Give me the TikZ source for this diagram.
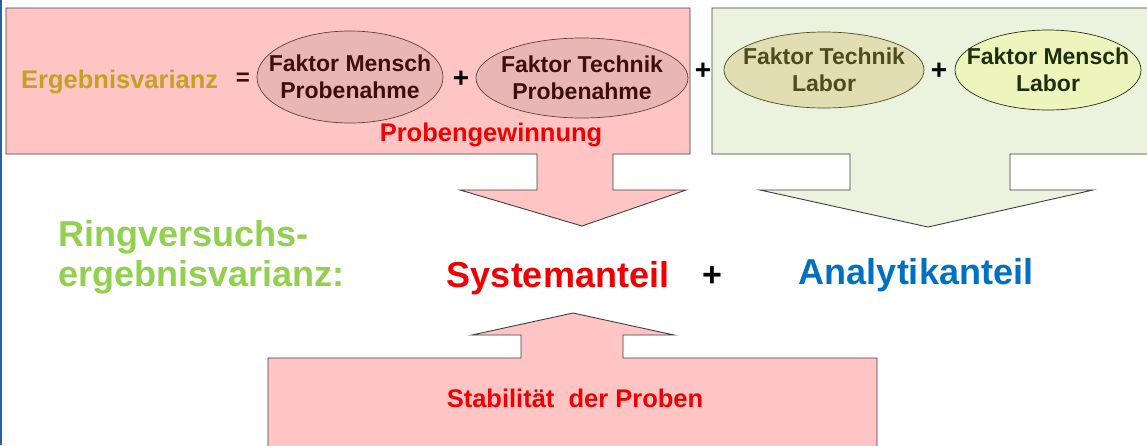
\documentclass[tikz,border=0pt]{standalone}
\usepackage{fontspec}
\setmainfont{Liberation Sans}
\usetikzlibrary{shapes.geometric}
\definecolor{pinkfill}{HTML}{FFC4C4}
\definecolor{pinkell}{HTML}{E9B5B5}
\definecolor{greenfill}{HTML}{EBF2DE}
\definecolor{greenellA}{HTML}{E2DEB4}
\definecolor{greenellB}{HTML}{EEF5BC}
\definecolor{boxline}{HTML}{404040}
\definecolor{gold}{HTML}{C4A024}
\definecolor{mybrown}{HTML}{3C0E0E}
\definecolor{olivetext}{HTML}{4C4C1E}
\definecolor{darkgreentext}{HTML}{1E2E10}
\definecolor{lightgreen}{HTML}{92D050}
\definecolor{myred}{HTML}{F00000}
\definecolor{myblue}{HTML}{0070C0}
\definecolor{edgeblue}{HTML}{2F5F9A}
\tikzset{
  callout/.style={draw=boxline, line width=0.9pt, line join=miter},
  ell/.style={ellipse, draw=#1, line width=0.7pt, inner xsep=-40pt, inner ysep=-10pt, align=center,
    font=\fontsize{23}{27}\selectfont\bfseries},
  plus/.style={font=\fontsize{28}{28}\selectfont\bfseries, text=black, inner sep=0pt},
  big/.style={font=\fontsize{36}{40}\selectfont\bfseries, inner sep=0pt},
  mid/.style={font=\fontsize{25.5}{28}\selectfont\bfseries, inner sep=0pt}
}
\begin{document}
\begin{tikzpicture}[x=1pt, y=-1pt]
\useasboundingbox (0,0) rectangle (1147,445);
\fill[white] (0,0) rectangle (1147,445);
% left edge
\draw[edgeblue, line width=2pt] (1,0) -- (1,445);
% pink callout (top)
\draw[callout, fill=pinkfill] (6,8) -- (690,8) -- (690,154) -- (613,154) -- (613,190)
  -- (686,190) -- (582,226) -- (460,190) -- (537,190) -- (537,154) -- (6,154) -- cycle;
% green callout
\draw[callout, fill=greenfill] (712,8) -- (1152,8) -- (1152,154) -- (1010,154) -- (1010,190)
  -- (1093,190) -- (928,227) -- (760,190) -- (850,190) -- (850,154) -- (712,154) -- cycle;
% bottom pink callout (up)
\draw[callout, fill=pinkfill] (268,450) -- (268,358) -- (521,358) -- (521,335) -- (472,335)
  -- (573,313) -- (674,335) -- (623,335) -- (623,358) -- (877,358) -- (877,450);

% top formula
\node[ell=mybrown!80, fill=pinkell, text=mybrown, minimum width=186pt, minimum height=92pt] (fmp) at (350,77)
  {Faktor Mensch\\Probenahme};
\node[ell=mybrown!80, fill=pinkell, text=mybrown, minimum width=212pt, minimum height=80pt] (ftp) at (582,78)
  {Faktor Technik\\Probenahme};
\node[ell=olivetext, fill=greenellA, text=olivetext, minimum width=200pt, minimum height=76pt] (ftl) at (824,70)
  {Faktor Technik\\Labor};
\node[ell=darkgreentext, fill=greenellB, text=darkgreentext, minimum width=186pt, minimum height=80pt] (fml) at (1048,70)
  {Faktor Mensch\\Labor};
\node[mid, text=gold, anchor=base west] (ev) at (21,88) {Ergebnisvarianz};
\node[plus, text=mybrown, font=\fontsize{24}{24}\selectfont\bfseries] (eq) at (243,79) {=};
\node[plus] (p1) at (461,79) {+};
\node[plus] (p2) at (703,71) {+};
\node[plus] (p3) at (939,71) {+};
\node[mid, text=myred, anchor=base] (pg) at (491,141) {Probengewinnung};

% middle row
\node[big, text=lightgreen, align=left, anchor=west] (rv) at (58,257)
  {Ringversuchs-\\ergebnisvarianz:};
\node[big, text=myred, anchor=base] (sys) at (558,287) {Systemanteil};
\node[plus, font=\fontsize{34}{34}\selectfont\bfseries] (p4) at (712,277) {+};
\node[big, text=myblue, anchor=base] (ana) at (916,284) {Analytikanteil};

% bottom
\node[mid, text=myred, anchor=base] (stab) at (575,407) {Stabilität\ \ der Proben};
\end{tikzpicture}
\end{document}
